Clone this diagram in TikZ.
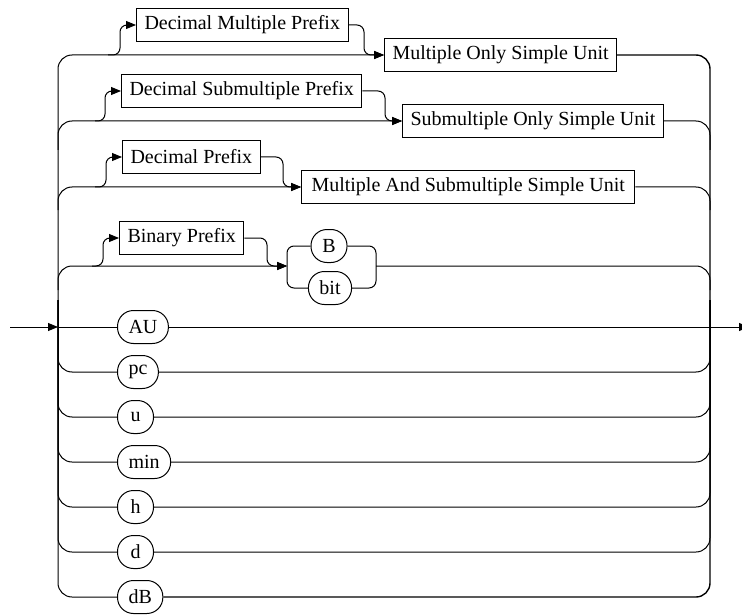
\documentclass[tikz,border=0pt]{standalone}
\usepackage{fontspec}
\setmainfont{Liberation Serif}
\usetikzlibrary{arrows.meta}
\tikzset{
  nonterm/.style={draw,anchor=west,inner xsep=8pt,minimum height=33pt},
  term/.style={draw,anchor=west,rounded corners=16pt,inner xsep=11pt,minimum height=33pt,minimum width=36pt},
  rail/.style={rounded corners=14pt},
  bypass/.style={rounded corners=7pt},
  >={Triangle[length=10pt,width=8pt]}
}
\begin{document}
\begin{tikzpicture}[x=1pt,y=-1pt,line width=1pt,font=\rmfamily\fontsize{20}{24}\selectfont]
        \useasboundingbox (0,0) rectangle (742,615);
        %% prefixed units
        \node[nonterm] (dmp) at (136,25) {Decimal Multiple Prefix};
        \node[nonterm] (mosu) at (384,55) {Multiple Only Simple Unit};
        \node[nonterm] (dsp) at (121,91) {Decimal Submultiple Prefix};
        \node[nonterm] (sosu) at (402,121) {Submultiple Only Simple Unit};
        \node[nonterm] (dp) at (122,157) {Decimal Prefix};
        \node[nonterm,inner xsep=10pt] (masu) at (301,187) {Multiple And Submultiple Simple Unit};
        \node[nonterm] (bp) at (119,238) {Binary Prefix};
        \node[term,anchor=center] (B) at (329,246) {B};
        \node[term,anchor=center] (bit) at (330,288) {bit};
        \coordinate (chin) at (287,266);
        \coordinate (chout) at (376,266);
        %% plain units
        \node[term] (AU) at (117,327) {AU};
        \foreach \t/\y in {pc/372,u/417,min/462,h/507,d/552,dB/597}
            \node[term] (\t) at (117,\y) {\t};
        %% entry and exit
        \coordinate (in) at (10,327);
        \coordinate (lrail) at (58,327);
        \coordinate (rrail) at (710,327);
        \coordinate (out) at (749,327);
        \draw[->] (in) -- (lrail);
        \draw (lrail) -- (AU.west) (AU.east) -- (rrail);
        \draw[->] (rrail) -- (out);
        %% outer rails
        \draw[rail,->] (dB.west) -| (58,55) -- (mosu.west);
        \draw[rail,line width=1.4pt] (mosu.east) -| (710,597) -- (dB.east);
        \draw[rail,->] (58,150) |- (sosu.west);
        \draw[rail] (sosu.east) -| (710,150);
        \draw[rail,->] (58,210) |- (masu.west);
        \draw[rail] (masu.east) -| (710,210);
        \draw[rail,->] (58,290) |- (chin);
        \draw[rail] (chout) -| (710,290);
        \foreach \t in {pc,u,min,h,d} {
            \draw[rail] (58,300) |- (\t.west);
            \draw[rail] (\t.east) -| (710,300);
        }
        %% optional prefixes
        \draw[bypass,->] (108,55) -| ([xshift=-16pt]dmp.west) -- (dmp.west);
        \draw[bypass,->] (dmp.east) -| ([xshift=-20pt]mosu.west) -- (mosu.west);
        \draw[bypass,->] (95,121) -| ([xshift=-16pt]dsp.west) -- (dsp.west);
        \draw[bypass,->] (dsp.east) -| ([xshift=-17pt]sosu.west) -- (sosu.west);
        \draw[bypass,->] (95,187) -| ([xshift=-16pt]dp.west) -- (dp.west);
        \draw[bypass,->] (dp.east) -| ([xshift=-18pt]masu.west) -- (masu.west);
        \draw[bypass,->] (92,266) -| ([xshift=-16pt]bp.west) -- (bp.west);
        \draw[bypass,->] (bp.east) -| ([xshift=-20pt]chin) -- (chin);
        %% B or bit
        \draw[bypass] (B.west) -| (chin) |- (bit.west);
        \draw[bypass] (B.east) -| (chout) |- (bit.east);
    \end{tikzpicture}
\end{document}
